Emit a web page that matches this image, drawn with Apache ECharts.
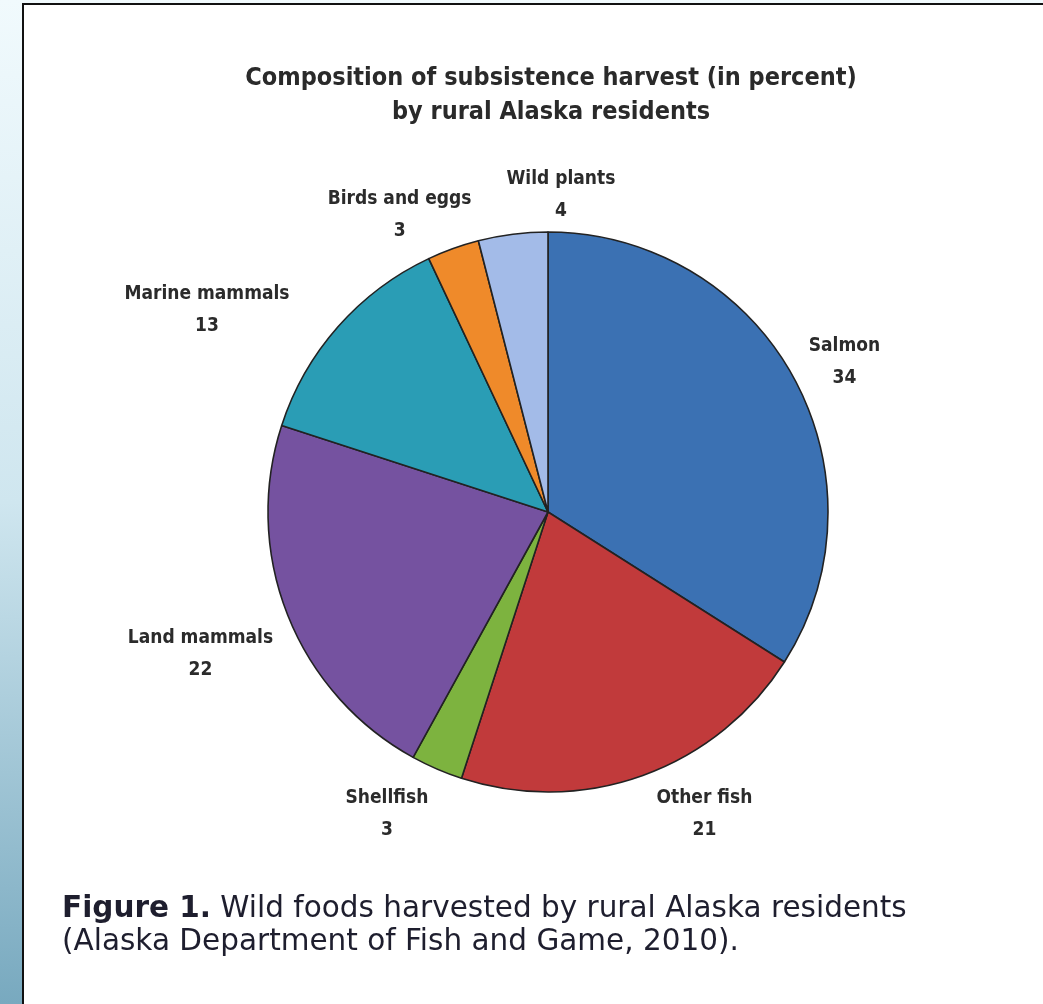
<!DOCTYPE html>
<html>
<head>
<meta charset="utf-8">
<script src="https://cdn.jsdelivr.net/npm/echarts@6/dist/echarts.min.js"></script>
<style>
  html, body { margin: 0; padding: 0; background: #fff; }
  #chart { width: 1043px; height: 1004px; }
</style>
</head>
<body>
<div id="chart"></div>
<script>
// Subsistence harvest composition, percent by category (clockwise from 12 o'clock)
const categories = ['Salmon', 'Other fish', 'Shellfish', 'Land mammals', 'Marine mammals', 'Birds and eggs', 'Wild plants'];
const percents = [34, 21, 3, 22, 13, 3, 4];
const sliceColors = ['#3b71b3', '#c13a3b', '#7db33f', '#7552a0', '#2a9db5', '#ef8a2a', '#a3bbe8'];

const titleLines = ['Composition of subsistence harvest (in percent)', 'by rural Alaska residents'];
const captionBold = 'Figure 1.';
const captionLines = [' Wild foods harvested by rural Alaska residents', '(Alaska Department of Fish and Game, 2010).'];

// pie geometry (pixels)
const CX = 548, CY = 512, R = 280, LABEL_GAP = 40;
// per-slice label nudges (px) from the radial anchor
const labelNudge = [[16, 4], [48, 1], [-34, 8], [-50, 24], [-101, 10], [-40, 4], [53, 1]];

const total = percents.reduce((a, b) => a + b, 0);
const midAngles = [];
let cum = 0;
percents.forEach(v => { midAngles.push((cum + v / 2) / total * 2 * Math.PI); cum += v; });

const chart = echarts.init(document.getElementById('chart'), null, { renderer: 'canvas' });

const condensed = '"Liberation Sans Narrow", "DejaVu Sans Condensed", "Liberation Sans", sans-serif';

chart.setOption({
  animation: false,
  backgroundColor: '#ffffff',
  graphic: [
    {
      type: 'rect', z: -10, silent: true,
      shape: { x: 0, y: 0, width: 1043, height: 1004 },
      style: {
        fill: new echarts.graphic.LinearGradient(0, 0, 0, 1, [
          { offset: 0, color: '#f1fafd' },
          { offset: 0.5, color: '#cfe6ef' },
          { offset: 1, color: '#78a9bf' }
        ])
      }
    },
    {
      type: 'rect', z: -9, silent: true,
      shape: { x: 23, y: 4, width: 1030, height: 1010 },
      style: { fill: '#ffffff', stroke: '#111111', lineWidth: 2 }
    },
    {
      type: 'text', z: 10, silent: true,
      x: 551, y: 95,
      style: {
        text: titleLines.join('\n'),
        font: 'bold 25px ' + condensed,
        fill: '#2a2a2a', align: 'center', verticalAlign: 'middle', lineHeight: 34
      }
    },
    {
      type: 'text', z: 10, silent: true,
      x: 62, y: 893,
      style: {
        text: '{b|' + captionBold + '}{r|' + captionLines[0] + '}\n{r|' + captionLines[1] + '}',
        fill: '#1e1e2e',
        rich: {
          b: { fontFamily: '"DejaVu Sans", Verdana, sans-serif', fontWeight: 'bold', fontSize: 29.5, fill: '#1e1e2e', lineHeight: 33 },
          r: { fontFamily: '"DejaVu Sans", Verdana, sans-serif', fontSize: 29.5, fill: '#1e1e2e', lineHeight: 33 }
        }
      }
    }
  ],
  series: [{
    type: 'pie',
    center: [CX, CY],
    radius: [0, R],
    startAngle: 90,
    clockwise: true,
    avoidLabelOverlap: false,
    data: categories.map((name, i) => ({ name, value: percents[i], itemStyle: { color: sliceColors[i] } })),
    itemStyle: { borderColor: '#222222', borderWidth: 1.6 },
    label: {
      show: true,
      position: 'outside',
      formatter: p => '{n|' + p.name + '}\n{v|' + p.value + '}',
      rich: {
        n: { fontFamily: condensed, fontWeight: 'bold', fontSize: 19, color: '#2b2b2b', lineHeight: 32, align: 'center' },
        v: { fontFamily: condensed, fontWeight: 'bold', fontSize: 19, color: '#2b2b2b', lineHeight: 32, align: 'center' }
      }
    },
    labelLine: { show: false },
    labelLayout: params => {
      const i = params.dataIndex;
      const a = midAngles[i];
      return {
        x: CX + (R + LABEL_GAP) * Math.sin(a) + labelNudge[i][0],
        y: CY - (R + LABEL_GAP) * Math.cos(a) + labelNudge[i][1],
        align: 'center',
        verticalAlign: 'middle'
      };
    },
    emphasis: { disabled: true }
  }]
});
</script>
</body>
</html>
